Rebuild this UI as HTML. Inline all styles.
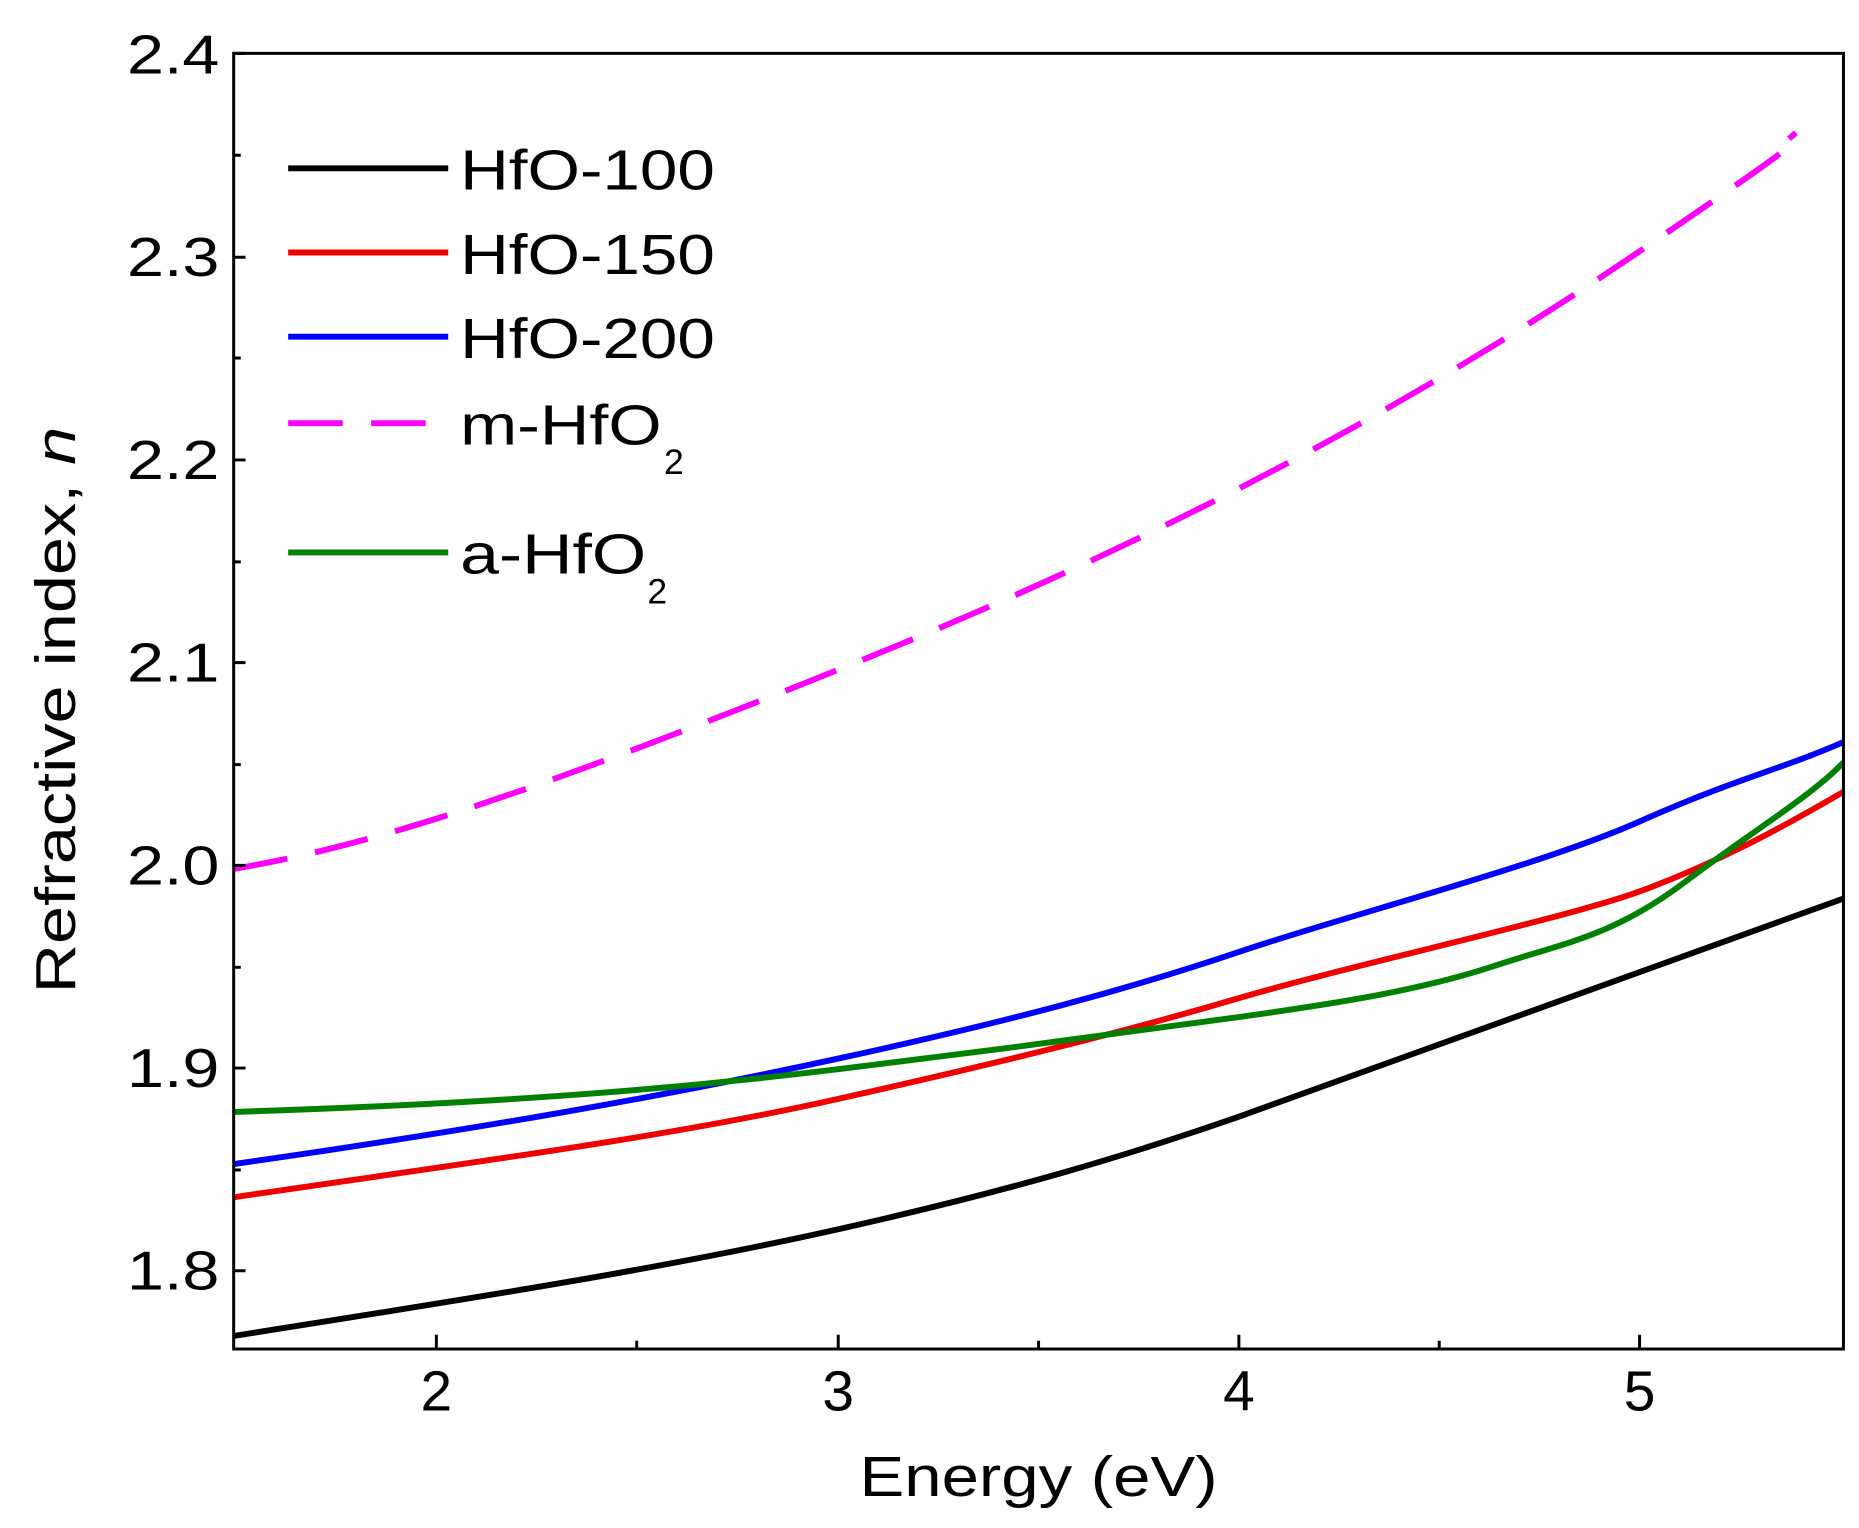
<!DOCTYPE html>
<html><head><meta charset="utf-8"><style>html,body{margin:0;padding:0;background:#fff}svg{display:block}</style></head>
<body>
<svg width="1859" height="1528" viewBox="0 0 1568 1289" xmlns="http://www.w3.org/2000/svg" font-family="Liberation Sans, Arial, sans-serif">
<rect width="1568" height="1289" fill="#fff"/>
<g fill="none" stroke-width="5" stroke-linejoin="round" stroke-linecap="butt">
<path stroke="#ff00ff" stroke-dasharray="46,24" d="M197,733 C320,712 450,668 707,565 S1180,350 1383,212 S1480,140 1515,112"/>
<path stroke="#000" d="M197,1127 C400,1095 560,1070 707,1037 S950,975 1045,942 S1300,850 1555,758"/>
<path stroke="#ee0000" d="M197,1010 C400,980 560,960 707,927 S950,870 1045,842 S1320,775 1383,752 S1500,700 1555,668"/>
<path stroke="#0000ff" d="M197,982 C400,953 560,925 707,893 S950,835 1045,803 S1300,730 1383,693 S1500,650 1555,626"/>
<path stroke="#008000" d="M197,938 C450,930 600,915 707,902 S960,870 1045,858 S1200,835 1260,815 S1360,790 1420,745 S1530,670 1555,643"/>
</g>
<g stroke="#000" stroke-width="2.5" fill="none">
<rect x="197" y="45" width="1358" height="1093"/>
<path d="M368,1138v-12M707,1138v-12M1045,1138v-12M1383,1138v-12M537,1138v-7M876,1138v-7M1214,1138v-7M197,1072h10M197,901h10M197,730h10M197,559h10M197,388h10M197,217h10M197,45h10M197,987h6M197,816h6M197,645h6M197,474h6M197,302h6M197,131h6"/>
</g>
<g font-size="46" fill="#000" text-anchor="end">
<text x="185" y="1088" textLength="78" lengthAdjust="spacingAndGlyphs">1.8</text>
<text x="185" y="917" textLength="78" lengthAdjust="spacingAndGlyphs">1.9</text>
<text x="185" y="746" textLength="78" lengthAdjust="spacingAndGlyphs">2.0</text>
<text x="185" y="575" textLength="78" lengthAdjust="spacingAndGlyphs">2.1</text>
<text x="185" y="404" textLength="78" lengthAdjust="spacingAndGlyphs">2.2</text>
<text x="185" y="233" textLength="78" lengthAdjust="spacingAndGlyphs">2.3</text>
<text x="185" y="62" textLength="78" lengthAdjust="spacingAndGlyphs">2.4</text>
</g>
<g font-size="48" fill="#000" text-anchor="middle">
<text x="368" y="1190">2</text><text x="707" y="1190">3</text><text x="1045" y="1190">4</text><text x="1383" y="1190">5</text>
</g>
<text x="725" y="1262" font-size="48" textLength="302" lengthAdjust="spacingAndGlyphs">Energy (eV)</text>
<text transform="translate(63,838) rotate(-90)" font-size="48" textLength="478" lengthAdjust="spacingAndGlyphs">Refractive index, <tspan font-style="italic">n</tspan></text>
<g stroke-width="5">
<line x1="243" y1="142" x2="378" y2="142" stroke="#000"/>
<line x1="243" y1="213" x2="378" y2="213" stroke="#ee0000"/>
<line x1="243" y1="284" x2="378" y2="284" stroke="#0000ff"/>
<line x1="243" y1="357" x2="378" y2="357" stroke="#ff00ff" stroke-dasharray="46,24"/>
<line x1="243" y1="466" x2="378" y2="466" stroke="#008000"/>
</g>
<g font-size="48" fill="#000">
<text x="388" y="160" textLength="215" lengthAdjust="spacingAndGlyphs">HfO-100</text>
<text x="388" y="231" textLength="215" lengthAdjust="spacingAndGlyphs">HfO-150</text>
<text x="388" y="302" textLength="215" lengthAdjust="spacingAndGlyphs">HfO-200</text>
<text x="388" y="375" textLength="170" lengthAdjust="spacingAndGlyphs">m-HfO</text>
<text x="560" y="400" font-size="30">2</text>
<text x="388" y="484" textLength="157" lengthAdjust="spacingAndGlyphs">a-HfO</text>
<text x="546" y="509" font-size="30">2</text>
</g>
</svg>
</body></html>
